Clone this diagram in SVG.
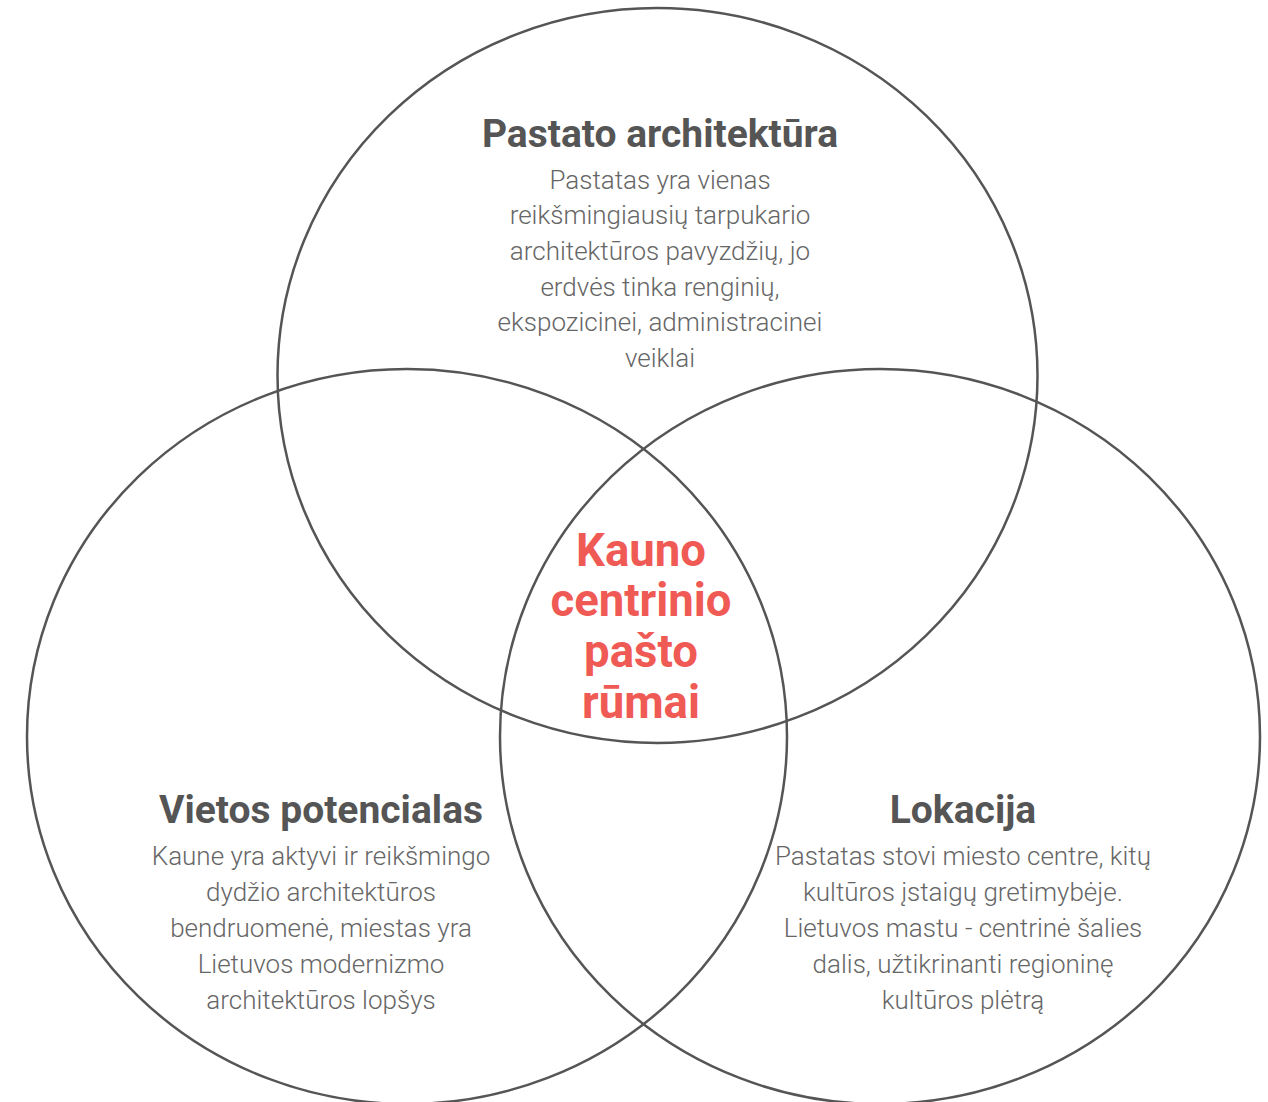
<svg xmlns="http://www.w3.org/2000/svg" width="1268" height="1102" viewBox="0 0 1268 1102">
<style>
.c{fill:none;stroke:#555;stroke-width:2.5}
.t{font-family:Roboto,"Liberation Sans",sans-serif;font-weight:700;font-size:39px;fill:#555;text-anchor:middle}
.b{font-family:Roboto,"Liberation Sans",sans-serif;font-weight:300;font-size:26px;fill:#666;text-anchor:middle}
.m{font-family:Roboto,"Liberation Sans",sans-serif;font-weight:700;font-size:45.5px;fill:#f05a55;text-anchor:middle}
</style>
<rect width="1268" height="1102" fill="#fff"/>
<g id="connectors"></g>
<g id="top">
<ellipse class="c" cx="657.5" cy="375.5" rx="380" ry="367.5"/>
<text class="t" x="660" y="147">Pastato architektūra</text>
<text class="b" x="660" y="189">Pastatas yra vienas</text>
<text class="b" x="660" y="224">reikšmingiausių tarpukario</text>
<text class="b" x="660" y="260">architektūros pavyzdžių, jo</text>
<text class="b" x="660" y="296">erdvės tinka renginių,</text>
<text class="b" x="660" y="331">ekspozicinei, administracinei</text>
<text class="b" x="660" y="367">veiklai</text>
</g>
<g id="left">
<ellipse class="c" cx="407" cy="736.5" rx="380" ry="367.5"/>
<text class="t" x="321" y="823">Vietos potencialas</text>
<text class="b" x="321" y="865">Kaune yra aktyvi ir reikšmingo</text>
<text class="b" x="321" y="901">dydžio architektūros</text>
<text class="b" x="321" y="937">bendruomenė, miestas yra</text>
<text class="b" x="321" y="973">Lietuvos modernizmo</text>
<text class="b" x="321" y="1009">architektūros lopšys</text>
</g>
<g id="right">
<ellipse class="c" cx="880" cy="736.5" rx="380" ry="367.5"/>
<text class="t" x="963" y="823">Lokacija</text>
<text class="b" x="963" y="865">Pastatas stovi miesto centre, kitų</text>
<text class="b" x="963" y="901">kultūros įstaigų gretimybėje.</text>
<text class="b" x="963" y="937">Lietuvos mastu - centrinė šalies</text>
<text class="b" x="963" y="973">dalis, užtikrinanti regioninę</text>
<text class="b" x="963" y="1009">kultūros plėtrą</text>
</g>
<g id="center">
<text class="m" x="641" y="566">Kauno</text>
<text class="m" x="641" y="616">centrinio</text>
<text class="m" x="641" y="667">pašto</text>
<text class="m" x="641" y="718">rūmai</text>
</g>
</svg>
